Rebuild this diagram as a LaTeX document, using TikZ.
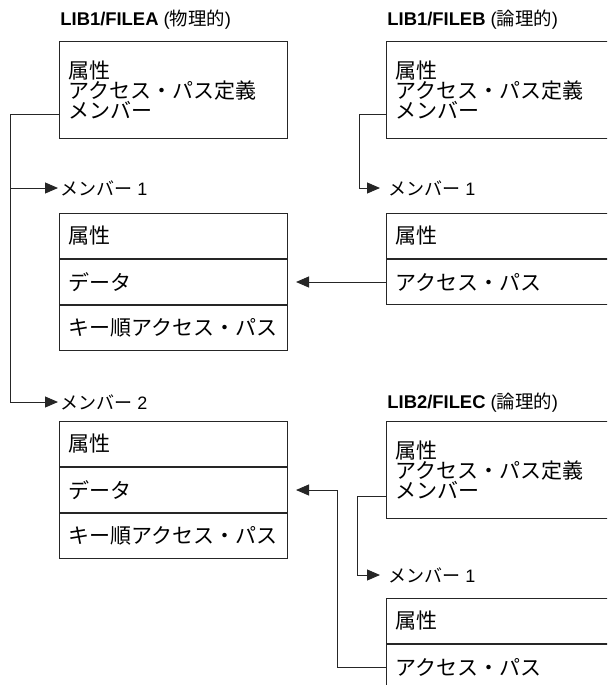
\documentclass[tikz,border=0pt]{standalone}
\usepackage{fontspec}
\setmainfont{Liberation Sans}
\newfontfamily\jp{Noto Sans CJK JP}
\usetikzlibrary{arrows.meta,positioning}

\begin{document}
\begin{tikzpicture}[x=0.5pt,y=-0.5pt]
    \tikzstyle{hdrbox} = [rectangle, draw=black!85, line width=0.5pt, anchor=north west, minimum width=114pt, minimum height=48.5pt, text width=105pt, inner xsep=4.5pt, align=left, font=\jp\fontsize{10.5}{10}\selectfont]
    \tikzstyle{rowbox} = [rectangle, draw=black!85, line width=0.5pt, anchor=north west, minimum width=114pt, minimum height=22.5pt, text width=105pt, inner xsep=4.5pt, align=left, font=\jp\fontsize{10.5}{12}\selectfont]
    \tikzstyle{title} = [anchor=west, inner sep=0pt, font=\fontsize{9.2}{10}\selectfont]
    \tikzstyle{memlbl} = [anchor=west, inner sep=1pt, font=\fontsize{9}{10}\selectfont]
    \tikzstyle{arr} = [draw=black!85, line width=0.5pt, -{Triangle[length=6.5pt,width=5.5pt]}]

    \useasboundingbox (0,0) rectangle (607,685);
    \clip (0,0) rectangle (607,685);

    % Files
    \node[title] (ta) at (60,20) {\textbf{LIB1/FILEA} ({\jp 物理的})};
    \node[title] (tb) at (387,20) {\textbf{LIB1/FILEB} ({\jp 論理的})};
    \node[title] (tc) at (387,403) {\textbf{LIB2/FILEC} ({\jp 論理的})};
    \node[hdrbox] (filea) at (59,41) {属性\\アクセス・パス定義\\メンバー};
    \node[hdrbox, minimum width=127pt, text width=118pt] (fileb) at (386,41) {属性\\アクセス・パス定義\\メンバー};
    \node[hdrbox, minimum width=127pt, text width=118pt] (filec) at (386,421) {属性\\アクセス・パス定義\\メンバー};

    % Members of FILEA
    \node[memlbl] (ma1) at (58,188) {{\jp メンバー} 1};
    \node[rowbox] (aat1) at (59,213) {属性};
    \node[rowbox, below=0pt of aat1] (ad1) {データ};
    \node[rowbox, below=0pt of ad1] (akp1) {キー順アクセス・パス};
    \node[memlbl] (ma2) at (58,402) {{\jp メンバー} 2};
    \node[rowbox] (aat2) at (59,421) {属性};
    \node[rowbox, below=0pt of aat2] (ad2) {データ};
    \node[rowbox, below=0pt of ad2] (akp2) {キー順アクセス・パス};

    % Members of FILEB and FILEC
    \node[memlbl, inner xsep=4pt] (mb1) at (380,188) {{\jp メンバー} 1};
    \node[rowbox, minimum width=127pt, text width=118pt] (bat) at (386,213) {属性};
    \node[rowbox, minimum width=127pt, text width=118pt, below=0pt of bat] (bap) {アクセス・パス};
    \node[memlbl, inner xsep=4pt] (mc1) at (380,575) {{\jp メンバー} 1};
    \node[rowbox, minimum width=127pt, text width=118pt] (cat) at (386,598) {属性};
    \node[rowbox, minimum width=127pt, text width=118pt, below=0pt of cat] (cap) {アクセス・パス};

    % Connectors
    \coordinate (aout) at ([yshift=-12.25pt]filea.west);
    \coordinate (bout) at ([yshift=-12.25pt]fileb.west);
    \coordinate (cout) at ([yshift=-13.25pt]filec.west);
    \draw[arr] (aout) -- ++(-49,0) |- (ma1.west);
    \draw[arr] (aout) -- ++(-49,0) |- (ma2.west);
    \draw[arr] (bout) -- ++(-27,0) |- (mb1.west);
    \draw[arr] (cout) -- ++(-29,0) |- (mc1.west);
    \draw[arr] (bap.west) -- ([xshift=4pt]ad1.east);
    \draw[arr] (cap.west) -- ++(-49,0) |- ([xshift=4pt]ad2.east);

\end{tikzpicture}
\end{document}
